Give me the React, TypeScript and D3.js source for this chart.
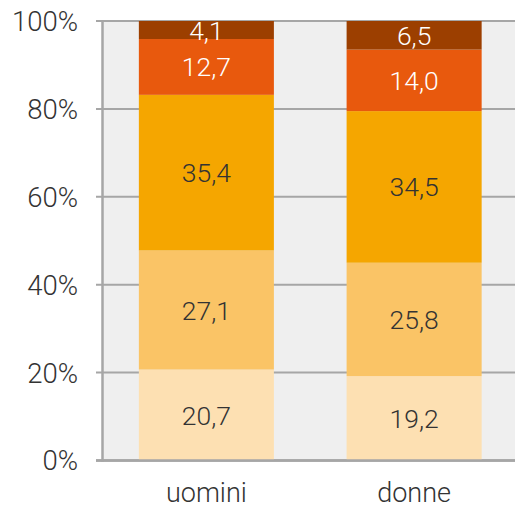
import React from "react";
import * as d3 from "d3";

const categories = ["uomini", "donne"];
const seriesKeys = ["s1", "s2", "s3", "s4", "s5"];
const seriesColors = ["#fde0b2", "#fac466", "#f5a600", "#e8590d", "#9c3f00"];
const seriesTextColors = ["#333333", "#333333", "#333333", "#ffffff", "#ffffff"];
const uominiValues = [20.7, 27.1, 35.4, 12.7, 4.1];
const donneValues = [19.2, 25.8, 34.5, 14.0, 6.5];
const yTicks = [0, 20, 40, 60, 80, 100];

const W = 515;
const H = 509;
const left = 102.5;
const top = 21;
const bottom = 460.5;
const right = 518;

export default function App() {
  const x = d3.scaleBand<string>().domain(categories).range([left, right]).paddingInner(0.35).paddingOuter(0.175);
  const y = d3.scaleLinear().domain([0, 100]).range([bottom, top]);

  const rows = categories.map((c, i) => {
    const vals = i === 0 ? uominiValues : donneValues;
    const obj: any = { cat: c };
    seriesKeys.forEach((k, j) => (obj[k] = vals[j]));
    return obj;
  });
  const stacked = d3.stack().keys(seriesKeys)(rows);
  const fmt = (v: number) => v.toFixed(1).replace(".", ",");
  const font = "Roboto, 'Noto Sans', sans-serif";

  return (
    <svg width={W} height={H} style={{ position: "absolute", left: 0, top: 0 }}>
      <rect x={left} y={top} width={W - left} height={bottom - top} fill="#efefef" />
      {yTicks.map((t) => (
        <g key={t}>
          <line x1={96} x2={W} y1={y(t)} y2={y(t)} stroke="#a6a6a6" strokeWidth={t === 0 ? 2.5 : 2} />
          <text x={78} y={y(t)} dy="0.36em" textAnchor="end" fontFamily={font} fontWeight={300} fontSize={27.5} fill="#333">
            {t}%
          </text>
        </g>
      ))}
      {stacked.map((layer, si) => (
        <g key={layer.key}>
          {layer.map((d: any, ci: number) => {
            const x0 = x(categories[ci])!;
            const y0 = y(d[1]);
            const y1 = y(d[0]);
            return <rect key={ci} x={x0} y={y0} width={x.bandwidth()} height={y1 - y0} fill={seriesColors[si]} />;
          })}
        </g>
      ))}
      <line x1={W} x2={96} y1={y(0)} y2={y(0)} stroke="#a6a6a6" strokeWidth={2.5} />
      <line x1={left} x2={left} y1={top} y2={bottom + 1} stroke="#a6a6a6" strokeWidth={2.5} />
      {stacked.map((layer, si) =>
        layer.map((d: any, ci: number) => {
          const cx = x(categories[ci])! + x.bandwidth() / 2;
          const cy = (y(d[0]) + y(d[1])) / 2;
          return (
            <text key={`${si}-${ci}`} x={cx} y={cy} dy="0.36em" textAnchor="middle" fontFamily={font} fontWeight={300} fontSize={26.5} fill={seriesTextColors[si]}>
              {fmt(d[1] - d[0])}
            </text>
          );
        })
      )}
      {categories.map((c) => (
        <text key={c} x={x(c)! + x.bandwidth() / 2} y={502} textAnchor="middle" fontFamily={font} fontWeight={300} fontSize={27} fill="#333">
          {c}
        </text>
      ))}
    </svg>
  );
}
